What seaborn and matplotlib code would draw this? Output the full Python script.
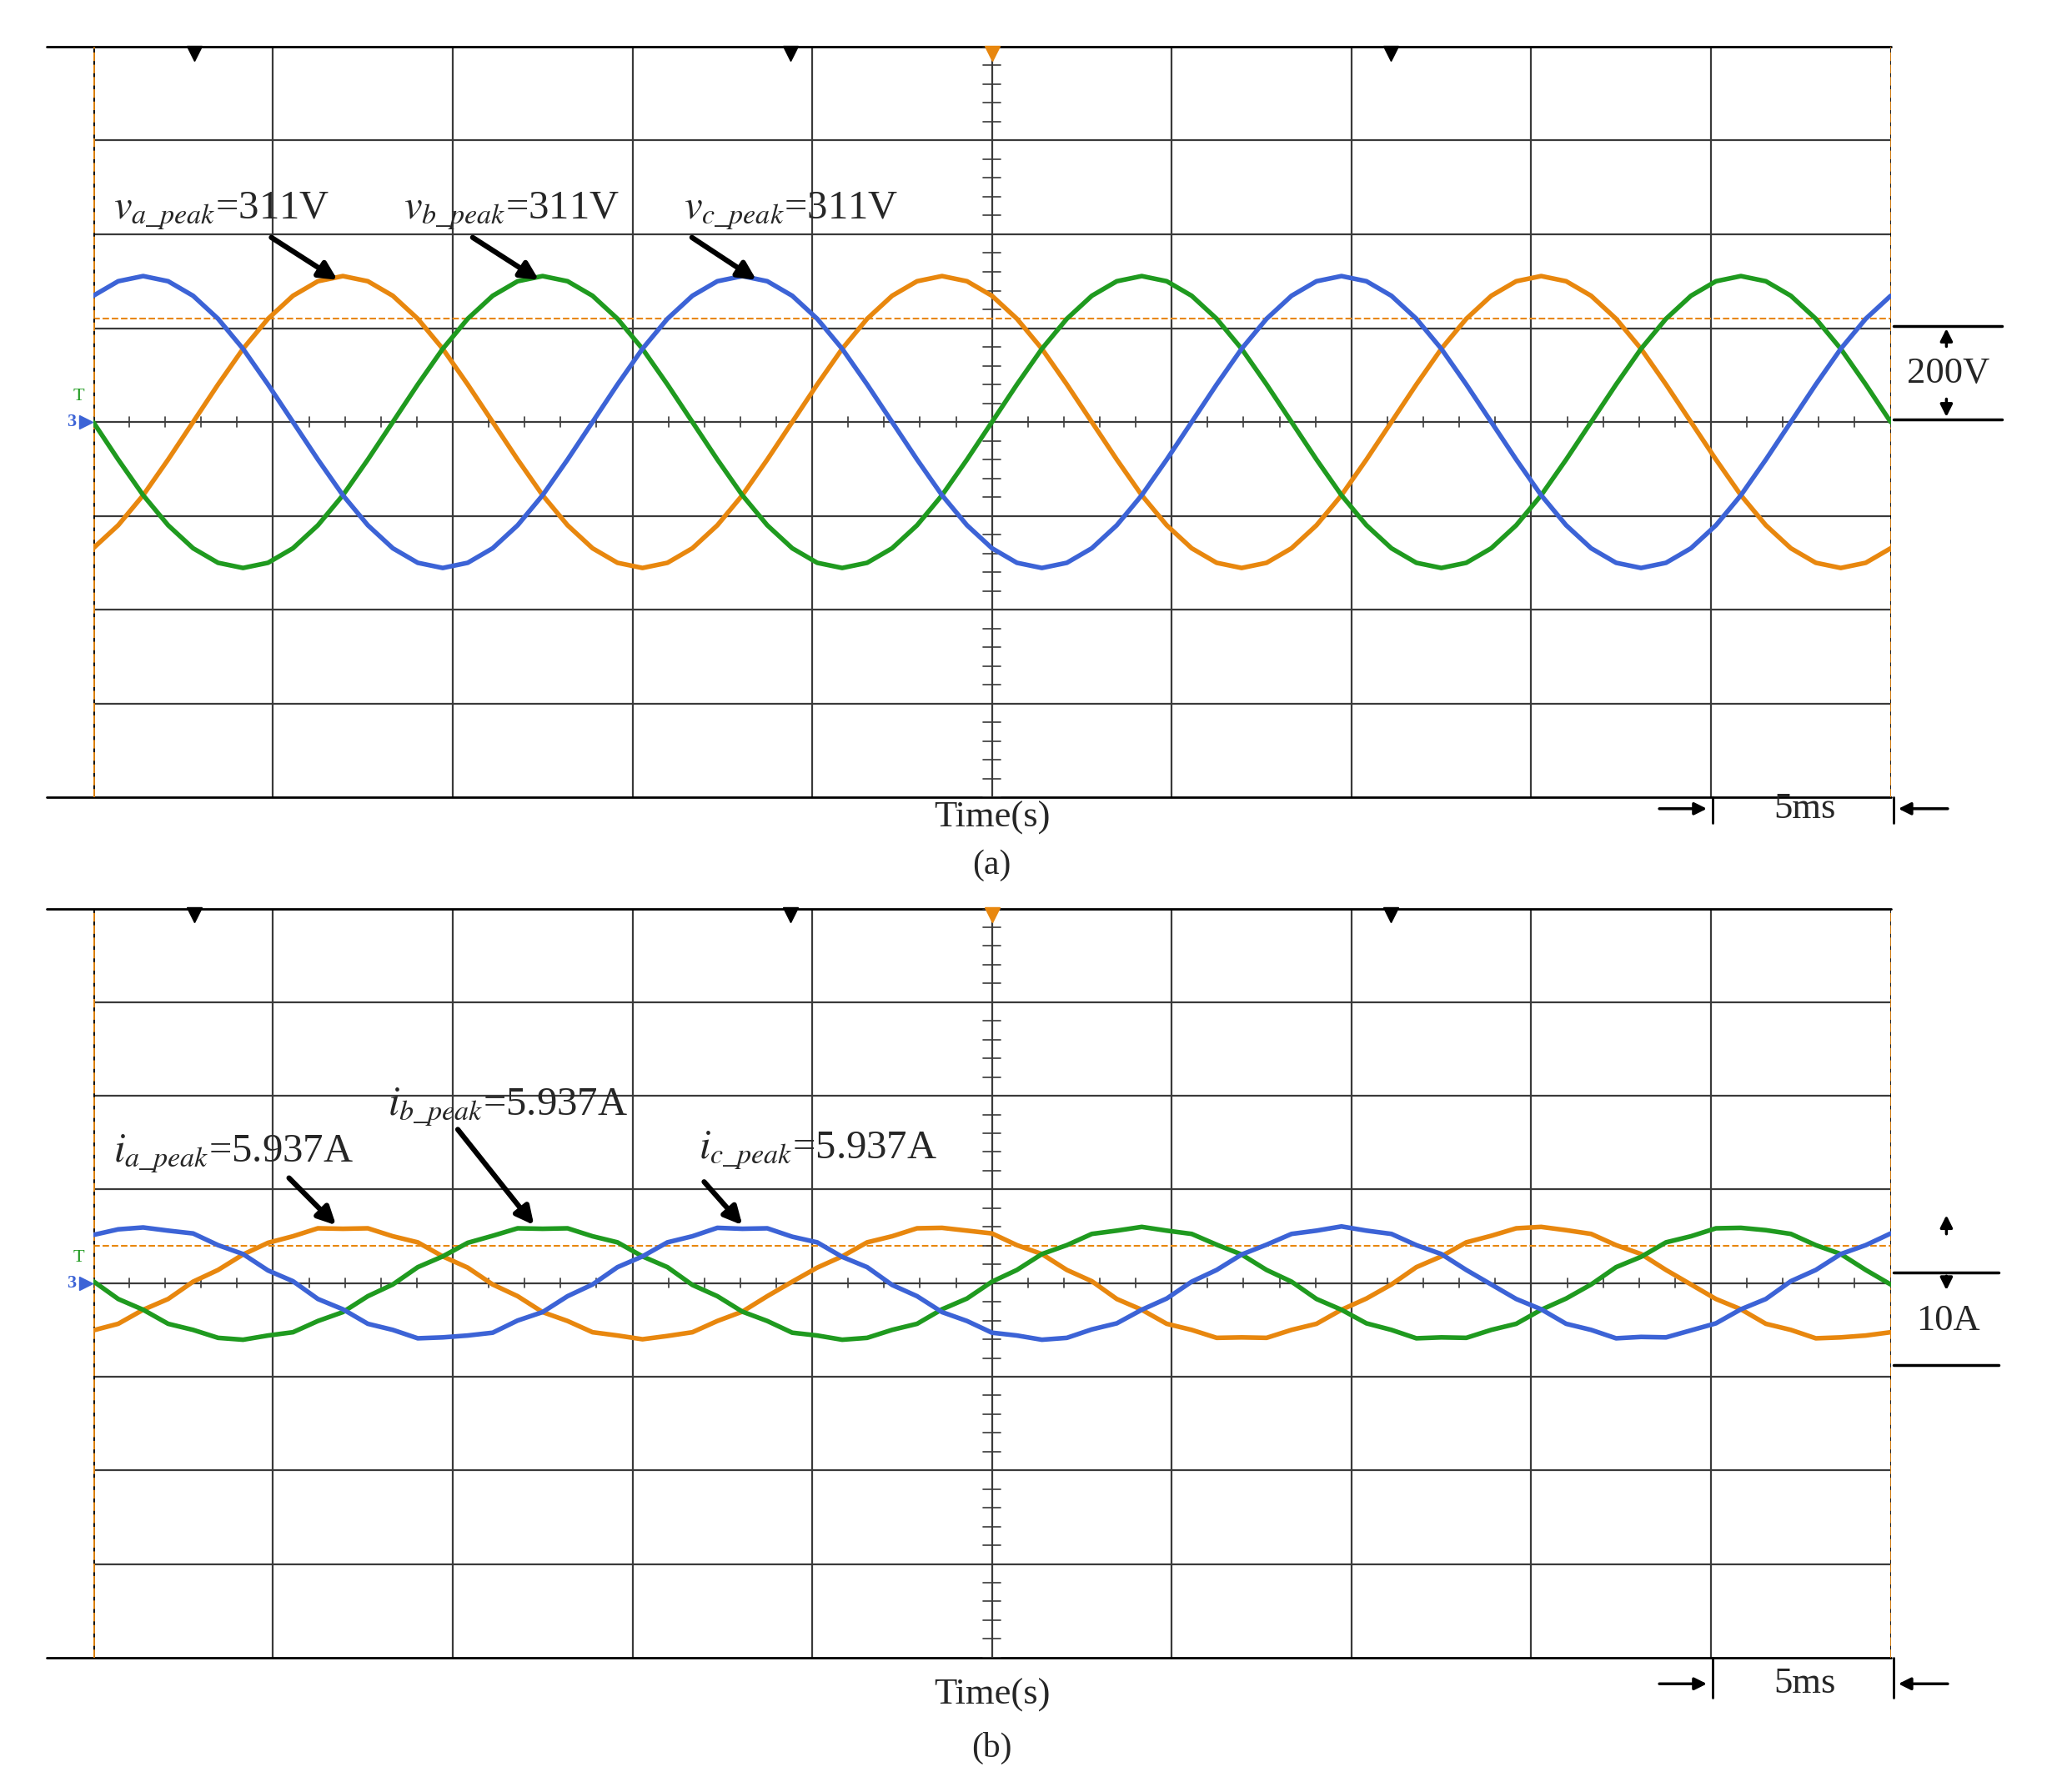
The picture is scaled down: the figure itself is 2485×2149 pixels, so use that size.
import numpy as np
import pandas as pd
import matplotlib
matplotlib.use('Agg')
import matplotlib.pyplot as plt
import seaborn as sns

sns.set_style('white')
plt.rcParams['font.family'] = ['Liberation Serif', 'DejaVu Serif']
plt.rcParams['mathtext.fontset'] = 'stix'

# sample times [ms], 73 scope samples over 10 div x 5 ms
t_ms = np.linspace(0, 50, 73)

# phase voltages [V]
va = [-269, -220, -156, -80, 0, 80, 156, 220, 269, 300,
      311, 300, 269, 220, 156, 80, 0, -80, -156, -220, -269, -300, -311, -300, -269, -220, -156, -80, 0, 80, 156, 220, 269, 300,
      311, 300, 269, 220, 156, 80, 0, -80, -156, -220, -269, -300, -311, -300, -269, -220, -156, -80, 0, 80, 156, 220, 269, 300,
      311, 300, 269, 220, 156, 80, 0, -80, -156, -220, -269, -300, -311, -300, -269]
vb = [0, -80, -156, -220, -269, -300, -311, -300, -269, -220, -156, -80, 0, 80, 156, 220, 269, 300,
      311, 300, 269, 220, 156, 80, 0, -80, -156, -220, -269, -300, -311, -300, -269, -220, -156, -80, 0, 80, 156, 220, 269, 300,
      311, 300, 269, 220, 156, 80, 0, -80, -156, -220, -269, -300, -311, -300, -269, -220, -156, -80, 0, 80, 156, 220, 269, 300,
      311, 300, 269, 220, 156, 80, 0]
vc = [269, 300,
      311, 300, 269, 220, 156, 80, 0, -80, -156, -220, -269, -300, -311, -300, -269, -220, -156, -80, 0, 80, 156, 220, 269, 300,
      311, 300, 269, 220, 156, 80, 0, -80, -156, -220, -269, -300, -311, -300, -269, -220, -156, -80, 0, 80, 156, 220, 269, 300,
      311, 300, 269, 220, 156, 80, 0, -80, -156, -220, -269, -300, -311, -300, -269, -220, -156, -80, 0, 80, 156, 220, 269]

# phase currents [A]
ia = [-5.05, -4.35, -2.85, -1.70, 0.15, 1.40, 3.05, 4.30, 5.00, 5.85,
      5.80, 5.85, 5.00, 4.35, 2.85, 1.65, -0.15, -1.40, -3.10, -4.05, -5.25, -5.60, -6.00, -5.65, -5.25, -4.05, -3.05, -1.40, 0.15, 1.65, 2.85, 4.35, 5.00, 5.85,
      5.90, 5.60, 5.30, 4.05, 3.10, 1.40, 0.20, -1.70, -2.85, -4.35, -5.00, -5.85, -5.80, -5.85, -5.00, -4.35, -2.85, -1.65, -0.15, 1.70, 2.85, 4.35, 5.05, 5.85,
      6.00, 5.65, 5.25, 4.05, 3.10, 1.40, -0.15, -1.70, -2.80, -4.35, -5.00, -5.90, -5.80, -5.60, -5.25]
ib = [0.20, -1.70, -2.85, -4.35, -5.00, -5.85, -6.05, -5.60, -5.25, -4.05, -3.10, -1.40, -0.15, 1.70, 2.85, 4.30, 5.05, 5.85,
      5.80, 5.85, 5.00, 4.35, 2.85, 1.70, -0.20, -1.40, -3.05, -4.05, -5.30, -5.60, -6.05, -5.85, -5.00, -4.35, -2.80, -1.65, 0.15, 1.40, 3.10, 4.05, 5.25, 5.60,
      6.00, 5.60, 5.25, 4.10, 3.05, 1.40, 0.15, -1.70, -2.85, -4.30, -5.00, -5.90, -5.80, -5.85, -5.00, -4.35, -2.85, -1.65, -0.15, 1.70, 2.80, 4.35, 5.00, 5.85,
      5.90, 5.65, 5.25, 4.05, 3.10, 1.40, -0.15]
ic = [5.14, 5.74,
      5.94, 5.60, 5.30, 4.05, 3.10, 1.35, 0.20, -1.70, -2.80, -4.35, -5.00, -5.90, -5.80, -5.60, -5.30, -4.00, -3.10, -1.40, -0.15, 1.70, 2.85, 4.35, 5.00, 5.90,
      5.80, 5.85, 4.95, 4.35, 2.80, 1.70, -0.20, -1.40, -3.10, -4.05, -5.30, -5.60, -6.05, -5.85, -4.95, -4.30, -2.85, -1.65, 0.15, 1.40, 3.05, 4.10, 5.25, 5.60,
      6.05, 5.60, 5.25, 4.05, 3.10, 1.40, -0.15, -1.70, -2.80, -4.35, -5.00, -5.90, -5.75, -5.80, -5.05, -4.30, -2.80, -1.70, 0.20, 1.40, 3.10, 4.05, 5.30]

v_per_div = 200.0
i_per_div = 10.0
colors = {'a': '#e8870e', 'b': '#1f9a1f', 'c': '#3c63d6'}

fig = plt.figure(figsize=(24.85, 21.49), dpi=100)
ax_a = fig.add_axes([0.045, 0.555, 0.8675, 0.419])
ax_b = fig.add_axes([0.045, 0.075, 0.8675, 0.418])


def scope_frame(ax, trig):
    ax.set_xlim(0, 50)
    ax.set_ylim(-4, 4)
    ax.axis('off')
    for x in np.arange(5, 50, 5):
        ax.axvline(x, color='#3a3a3a', lw=1.6, zorder=1)
    for y in np.arange(-3, 4, 1):
        ax.axhline(y, color='#3a3a3a', lw=1.6, zorder=1)
    # outer frame
    for y in (-4, 4):
        ax.plot([-1.29, 50], [y, y], color='black', lw=2, clip_on=False)
    for x in (0, 50):
        ax.plot([x, x], [-4, 4], color='black', lw=2)
        ax.plot([x, x], [-4, 4], color='#e8870e', lw=2, ls='--')
    # centre ticks
    for y in np.arange(-4, 4.01, 0.2):
        ax.plot([24.75, 25.25], [y, y], color='#3a3a3a', lw=1.2)
    for x in np.arange(0, 50.01, 1):
        ax.plot([x, x], [-0.05, 0.05], color='#3a3a3a', lw=1.2)
    ax.axhline(trig, color='#e8870e', lw=1.5, ls='--', zorder=1)
    # top markers
    ax.plot([2.8, 19.4, 36.1], [3.93] * 3, marker='v', color='black', ms=13, ls='none', clip_on=False)
    ax.plot([25], [3.93], marker='v', color='#e8870e', ms=13, ls='none', clip_on=False)
    ax.text(-0.6, 0, '3', color='#3c63d6', fontsize=16, ha='center', va='center', fontweight='bold')
    ax.plot([-0.2], [0], marker='>', color='#3c63d6', ms=11, clip_on=False)
    ax.text(-0.4, 0.27, 'T', color='#1f9a1f', fontsize=16, ha='center', va='center')


def traces(ax, series, scale):
    df = pd.DataFrame({'t': np.tile(t_ms, 3),
                       'val': np.concatenate([np.array(s) / scale for s in series]),
                       'ph': np.repeat(['a', 'b', 'c'], len(t_ms))})
    sns.lineplot(data=df, x='t', y='val', hue='ph', palette=colors, lw=4,
                 sort=False, legend=False, ax=ax, zorder=3)


# panel (a)
scope_frame(ax_a, 1.1)
traces(ax_a, [va, vb, vc], v_per_div)
arr = dict(arrowstyle='-|>', color='black', lw=4.5, mutation_scale=32)
for txt, x, (x0, x1) in [(r'$v_{a\_peak}$=311V', 0.55, (4.9, 6.85)),
                         (r'$v_{b\_peak}$=311V', 8.64, (10.5, 12.45)),
                         (r'$v_{c\_peak}$=311V', 16.43, (16.6, 18.5))]:
    ax_a.text(x, 2.25, txt, fontsize=35, va='center')
    ax_a.annotate('', xy=(x1, 1.5), xytext=(x0, 1.98), arrowprops=arr)
ax_a.plot([50.07, 53.1], [1.02, 1.02], color='black', lw=2.5, clip_on=False)
ax_a.plot([50.07, 53.1], [0.03, 0.03], color='black', lw=2.5, clip_on=False)
ax_a.annotate('', xy=(51.55, 1.02), xytext=(51.55, 0.78), arrowprops=dict(arrowstyle='-|>', color='black', lw=2.5, mutation_scale=22), annotation_clip=False)
ax_a.annotate('', xy=(51.55, 0.03), xytext=(51.55, 0.27), arrowprops=dict(arrowstyle='-|>', color='black', lw=2.5, mutation_scale=22), annotation_clip=False)
ax_a.text(51.6, 0.52, '200V', fontsize=32, ha='center', va='center')

# panel (b)
scope_frame(ax_b, 0.4)
traces(ax_b, [ia, ib, ic], i_per_div)
for txt, x, y, (x0, y0), (x1, y1) in [(r'$i_{a\_peak}$=5.937A', 0.55, 1.38, (5.4, 1.14), (6.8, 0.6)),
                                     (r'$i_{b\_peak}$=5.937A', 8.2, 1.875, (10.1, 1.66), (12.3, 0.6)),
                                     (r'$i_{c\_peak}$=5.937A', 16.84, 1.42, (16.95, 1.1), (18.1, 0.6))]:
    ax_b.text(x, y, txt, fontsize=35, va='center')
    ax_b.annotate('', xy=(x1, y1), xytext=(x0, y0), arrowprops=arr)
ax_b.plot([50.07, 53.0], [0.11, 0.11], color='black', lw=2.5, clip_on=False)
ax_b.plot([50.07, 53.0], [-0.88, -0.88], color='black', lw=2.5, clip_on=False)
ax_b.annotate('', xy=(51.55, 0.75), xytext=(51.55, 0.5), arrowprops=dict(arrowstyle='-|>', color='black', lw=2.5, mutation_scale=22), annotation_clip=False)
ax_b.annotate('', xy=(51.55, -0.1), xytext=(51.55, 0.1), arrowprops=dict(arrowstyle='-|>', color='black', lw=2.5, mutation_scale=22), annotation_clip=False)
ax_b.text(51.6, -0.4, '10A', fontsize=32, ha='center', va='center')

# time-base labels
for ax, ym, yt, yl, lab in [(ax_a, -4.12, -4.22, -4.72, '(a)'), (ax_b, -4.28, -4.4, -4.97, '(b)')]:
    ax.text(25, yt, 'Time(s)', fontsize=32, ha='center', va='center')
    ax.text(25, yl, lab, fontsize=30, ha='center', va='center')
    ax.annotate('', xy=(44.95, ym), xytext=(43.5, ym), arrowprops=dict(arrowstyle='-|>', color='black', lw=2.5, mutation_scale=22), annotation_clip=False)
    ax.annotate('', xy=(50.15, ym), xytext=(51.65, ym), arrowprops=dict(arrowstyle='-|>', color='black', lw=2.5, mutation_scale=22), annotation_clip=False)
    ax.plot([45.04, 45.04], [-4, ym - 0.15], color='black', lw=2, clip_on=False)
    ax.plot([50.07, 50.07], [-4, ym - 0.15], color='black', lw=2, clip_on=False)
    ax.text(47.6, ym, '5ms', fontsize=32, ha='center', va='center')

fig.savefig('out.png', dpi=100, facecolor='white')
